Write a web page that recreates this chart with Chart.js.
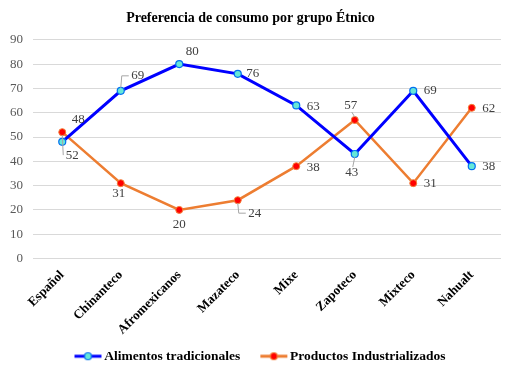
<!DOCTYPE html>
<html>
<head>
<meta charset="utf-8">
<script src="https://cdn.jsdelivr.net/npm/chart.js@4.4.1/dist/chart.umd.min.js"></script>
<style>
  html, body { margin: 0; padding: 0; background: #fff; }
  #wrap { width: 515px; height: 373px; }
</style>
</head>
<body>
<div id="wrap"><canvas id="chart"></canvas></div>
<script>
const categories = ['Español', 'Chinanteco', 'Afromexicanos', 'Mazateco', 'Mixe', 'Zapoteco', 'Mixteco', 'Nahualt'];
const alimentos = [48, 69, 80, 76, 63, 43, 69, 38];
const productos = [52, 31, 20, 24, 38, 57, 31, 62];
const yMin = 0;
const yMax = 90;
const yStep = 10;

// label placement: [dx, dy, leader?] relative to the point
const alimentosLabelPos = [[16, -22, 0], [17, -15, 1], [13, -13, 0], [15, 0, 0], [17, 1, 0], [-3, 19, 1], [17, 0, 0], [17, 0, 0]];
const productosLabelPos = [[10, 23, 1], [-2, 10, 0], [0, 15, 0], [17, 13, 1], [17, 1, 0], [-4, -14, 1], [17, 0, 0], [17, 1, 0]];

const SERIF = '"Liberation Serif", "DejaVu Serif", serif';

// legend icon: line with a marker, wider than its box so it sits close to the text
function legendIcon(lineColor, fill, stroke) {
  const c = document.createElement('canvas');
  c.width = 46;
  c.height = 10;
  const ctx = c.getContext('2d');
  ctx.strokeStyle = lineColor;
  ctx.lineWidth = 3;
  ctx.beginPath();
  ctx.moveTo(15, 5);
  ctx.lineTo(42, 5);
  ctx.stroke();
  ctx.beginPath();
  ctx.arc(28.5, 5, 3.5, 0, Math.PI * 2);
  ctx.fillStyle = fill;
  ctx.fill();
  ctx.lineWidth = 1.2;
  ctx.strokeStyle = stroke;
  ctx.stroke();
  return c;
}

// --- Data labels ---
const valueLabels = {
  id: 'valueLabels',
  afterDatasetsDraw(chart) {
    const ctx = chart.ctx;
    const placements = [alimentosLabelPos, productosLabelPos];
    ctx.save();
    ctx.font = '13px ' + SERIF;
    ctx.fillStyle = '#404040';
    ctx.textAlign = 'center';
    ctx.textBaseline = 'middle';
    chart.data.datasets.forEach((ds, i) => {
      const meta = chart.getDatasetMeta(i);
      meta.data.forEach((pt, j) => {
        const [dx, dy, leader] = placements[i][j];
        const lx = pt.x + dx;
        const ly = pt.y + dy;
        if (leader) {
          ctx.strokeStyle = '#a6a6a6';
          ctx.lineWidth = 1;
          ctx.beginPath();
          if (Math.abs(dx) > 8) {
            ctx.moveTo(pt.x, pt.y + (dy < 0 ? -3 : 3));
            ctx.lineTo(pt.x + 1, ly);
            ctx.lineTo(lx - 9, ly);
          } else {
            ctx.moveTo(pt.x, pt.y + (dy < 0 ? -3 : 3));
            ctx.lineTo(lx + 1, ly + (dy < 0 ? 6 : -6));
          }
          ctx.stroke();
        }
        ctx.fillText(String(ds.data[j]), lx, ly);
      });
    });
    ctx.restore();
  }
};

// legend is centred on the whole canvas, not only the padded area
const legendShift = {
  id: 'legendShift',
  afterLayout(chart) {
    chart.legend.left += 6;
    chart.legend.right += 6;
  }
};

new Chart(document.getElementById('chart'), {
  type: 'line',
  data: {
    labels: categories,
    datasets: [
      {
        label: 'Alimentos tradicionales',
        data: alimentos,
        borderColor: '#0000ff',
        borderWidth: 3,
        pointRadius: 3.5,
        pointBackgroundColor: '#66e8d8',
        pointBorderColor: '#0070f0',
        pointBorderWidth: 1.2,
        tension: 0,
        clip: false
      },
      {
        label: 'Productos Industrializados',
        data: productos,
        borderColor: '#ed7d31',
        borderWidth: 2.5,
        pointRadius: 3.5,
        pointBackgroundColor: '#ff0000',
        pointBorderColor: '#f4813a',
        pointBorderWidth: 1,
        tension: 0,
        clip: false
      }
    ]
  },
  options: {
    responsive: true,
    maintainAspectRatio: false,
    animation: false,
    layout: { padding: { left: 0, right: 14, top: 0, bottom: 0 } },
    plugins: {
      title: {
        display: true,
        text: 'Preferencia de consumo por grupo Étnico',
        color: '#000',
        font: { family: SERIF, size: 14, weight: 'bold' },
        padding: { top: 10, bottom: 13 }
      },
      legend: {
        position: 'bottom',
        labels: {
          usePointStyle: true,
          pointStyleWidth: 30,
          color: '#000',
          padding: 13,
          font: { family: SERIF, size: 13.5, weight: 'bold' },
          generateLabels(chart) {
            const icons = [
              legendIcon('#0000ff', '#66e8d8', '#0070f0'),
              legendIcon('#ed7d31', '#ff0000', '#f4813a')
            ];
            return chart.data.datasets.map((ds, i) => ({
              text: ds.label,
              fillStyle: ds.borderColor,
              strokeStyle: ds.borderColor,
              fontColor: '#000',
              lineWidth: 0,
              pointStyle: icons[i],
              hidden: false,
              datasetIndex: i
            }));
          }
        }
      },
      tooltip: { enabled: false }
    },
    scales: {
      x: {
        offset: true,
        afterFit(scale) { scale.height = 78; },
        grid: { display: false },
        border: { display: false },
        ticks: {
          color: '#000',
          minRotation: 45,
          maxRotation: 45,
          padding: 1,
          font: { family: SERIF, size: 13, weight: 'bold' }
        }
      },
      y: {
        min: yMin,
        max: yMax,
        afterFit(scale) { scale.width = 33; },
        grid: { color: '#d9d9d9', drawTicks: false, lineWidth: 1 },
        border: { display: false },
        ticks: {
          stepSize: yStep,
          padding: 10,
          color: '#595959',
          font: { family: SERIF, size: 13 }
        }
      }
    }
  },
  plugins: [valueLabels, legendShift]
});
</script>
</body>
</html>
